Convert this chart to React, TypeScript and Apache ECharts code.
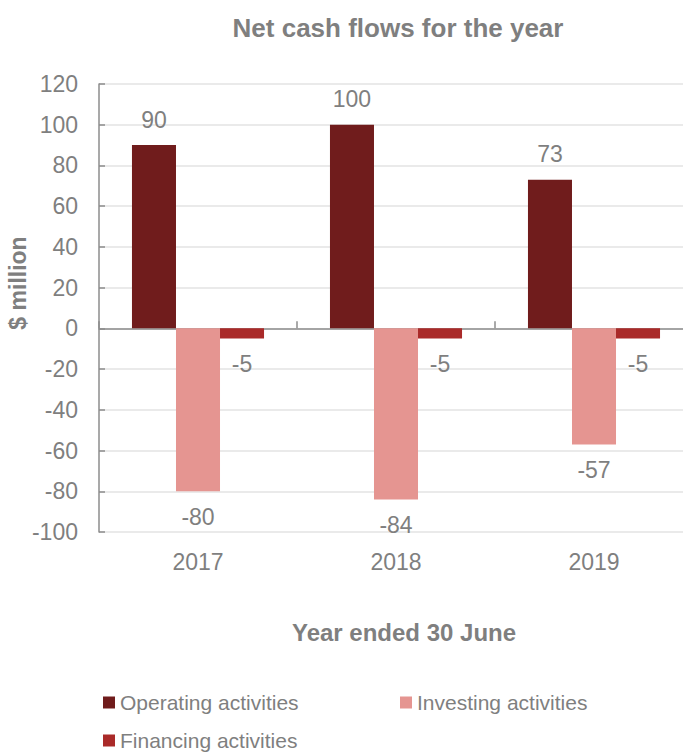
import React, { useEffect, useRef } from "react";
import * as echarts from "echarts";

const categories = ["2017", "2018", "2019"];
const operating = [90, 100, 73];
const investing = [-80, -84, -57];
const financing = [-5, -5, -5];
const seriesNames = ["Operating activities", "Investing activities", "Financing activities"];
const titleText = "Net cash flows for the year";
const xName = "Year ended 30 June";
const yName = "$ million";

const GRAY = "#7f7f7f";
const FONT = "Liberation Sans, Arial, sans-serif";

export default function App() {
  const ref = useRef<HTMLDivElement>(null);
  useEffect(() => {
    if (!ref.current) return;
    const chart = echarts.init(ref.current, null, { renderer: "svg" });
    const label = (pos: string) => ({
      show: true,
      position: pos,
      distance: 14,
      color: GRAY,
      fontSize: 23,
      fontFamily: FONT,
    });
    const mk = (name: string, data: number[], color: string) => ({
      name,
      type: "bar",
      xAxisIndex: 0,
      data: data.map((v) => ({ value: v, label: label(v >= 0 ? "top" : "bottom") })),
      itemStyle: { color },
      barGap: "0%",
      barCategoryGap: "33.3%",
    });
    const legendBase = {
      itemWidth: 12,
      itemHeight: 12,
      icon: "rect",
      padding: 0,
      textStyle: { color: GRAY, fontSize: 21, fontFamily: FONT },
      selectedMode: false,
    };
    chart.setOption({
      animation: false,
      textStyle: { fontFamily: FONT },
      grid: { left: 99, top: 84, width: 594, height: 448, containLabel: false },
      legend: [
        { ...legendBase, data: [seriesNames[0]], left: 103, top: 692 },
        { ...legendBase, data: [seriesNames[1]], left: 400, top: 692 },
        { ...legendBase, data: [seriesNames[2]], left: 103, top: 730 },
      ],
      xAxis: [
        {
          type: "category",
          data: categories,
          position: "bottom",
          axisLine: { show: false, onZero: false },
          axisTick: { show: false },
          axisLabel: { color: GRAY, fontSize: 23, margin: 18, fontFamily: FONT },
        },
        {
          type: "category",
          data: categories,
          position: "top",
          axisLine: { show: true, onZero: true, lineStyle: { color: "#8c8c8c", width: 1.5 } },
          axisTick: { show: true, inside: false, length: 7, lineStyle: { color: "#8c8c8c", width: 1.5 } },
          axisLabel: { show: false },
        },
      ],
      yAxis: {
        type: "value",
        min: -100,
        max: 120,
        interval: 20,
        axisLine: { show: true, onZero: false, lineStyle: { color: "#8c8c8c", width: 1.5 } },
        axisTick: { show: true, inside: true, length: 6, lineStyle: { color: "#8c8c8c", width: 1.5 } },
        splitLine: { show: true, lineStyle: { color: "#e3e3e3", width: 1.5 } },
        axisLabel: { color: GRAY, fontSize: 23, margin: 21, fontFamily: FONT },
      },
      graphic: [
        {
          type: "text",
          x: 398,
          y: 28,
          style: {
            text: titleText,
            fill: GRAY,
            font: `bold 26px ${FONT}`,
            textAlign: "center",
            textVerticalAlign: "middle",
          },
        },
        {
          type: "text",
          x: 404,
          y: 632,
          style: {
            text: xName,
            fill: GRAY,
            font: `bold 24px ${FONT}`,
            textAlign: "center",
            textVerticalAlign: "middle",
          },
        },
        {
          type: "text",
          x: 18,
          y: 283,
          rotation: Math.PI / 2,
          style: {
            text: yName,
            fill: GRAY,
            font: `bold 23px ${FONT}`,
            textAlign: "center",
            textVerticalAlign: "middle",
          },
        },
      ],
      series: [
        mk(seriesNames[0], operating, "#701c1c"),
        mk(seriesNames[1], investing, "#e59591"),
        mk(seriesNames[2], financing, "#aa2a29"),
      ],
    });
    return () => chart.dispose();
  }, []);
  return (
    <div style={{ position: "absolute", left: 0, top: 0, width: 683, height: 752, overflow: "hidden" }}>
      <div ref={ref} style={{ width: 700, height: 752, position: "absolute", left: 0, top: 0 }} />
    </div>
  );
}
